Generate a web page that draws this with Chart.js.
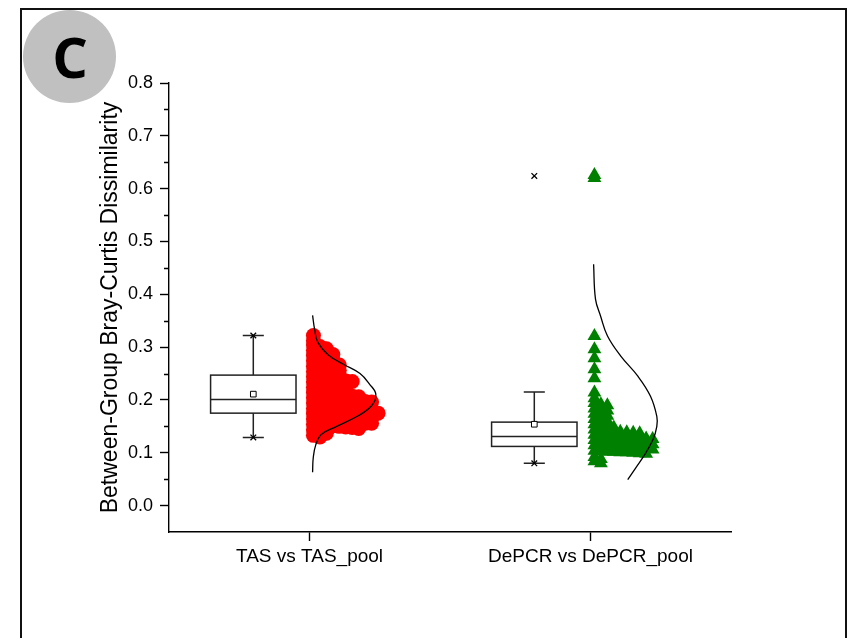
<!DOCTYPE html>
<html>
<head>
<meta charset="utf-8">
<script src="https://cdn.jsdelivr.net/npm/chart.js@4.4.1/dist/chart.umd.min.js"></script>
<style>
  html, body { margin: 0; padding: 0; background: #ffffff; }
  #wrap { width: 848px; height: 638px; position: relative; }
</style>
</head>
<body>
<div id="wrap"><canvas id="chart" width="848" height="638"></canvas></div>
<script>
// ---- data ----
const groups = ['TAS vs TAS_pool', 'DePCR vs DePCR_pool'];
const yTickValues = [0.0, 0.1, 0.2, 0.3, 0.4, 0.5, 0.6, 0.7, 0.8];
const yMinorValues = [0.05, 0.15, 0.25, 0.35, 0.45, 0.55, 0.65, 0.75];

// box statistics per group
const boxQ1 = [0.175, 0.112];
const boxMedian = [0.201, 0.131];
const boxQ3 = [0.247, 0.158];
const whiskerLow = [0.129, 0.080];
const whiskerHigh = [0.322, 0.215];
const groupMean = [0.211, 0.154];
const groupMin = [0.129, 0.080];
const groupMax = [0.322, 0.624];

// individual dissimilarities
const tasPoints = [
  0.322, 0.312,
  0.304, 0.301, 0.297,
  0.294, 0.291, 0.288, 0.286,
  0.284, 0.281, 0.279, 0.276,
  0.274, 0.272, 0.270, 0.268, 0.266,
  0.264, 0.262, 0.260, 0.258, 0.256,
  0.254, 0.252, 0.250, 0.248, 0.246,
  0.244, 0.242, 0.241, 0.239, 0.237, 0.236, 0.235,
  0.234, 0.232, 0.231, 0.229, 0.227, 0.226,
  0.224, 0.221, 0.218, 0.216,
  0.214, 0.213, 0.212, 0.211, 0.210, 0.208, 0.207, 0.206,
  0.204, 0.203, 0.202, 0.201, 0.200, 0.200, 0.199, 0.198, 0.197, 0.196,
  0.194, 0.193, 0.192, 0.191, 0.190, 0.189, 0.188, 0.187, 0.186,
  0.184, 0.183, 0.182, 0.181, 0.180, 0.179, 0.178, 0.177, 0.176, 0.176, 0.175,
  0.174, 0.173, 0.172, 0.171, 0.170, 0.169, 0.168, 0.167, 0.166, 0.166,
  0.164, 0.163, 0.162, 0.161, 0.160, 0.159, 0.158, 0.157, 0.156, 0.156,
  0.154, 0.153, 0.152, 0.151, 0.150, 0.149, 0.148, 0.146,
  0.143, 0.140, 0.137,
  0.133, 0.130
];
const depcrPoints = [
  0.626, 0.620,
  0.321, 0.296, 0.279, 0.258, 0.241, 0.214,
  0.203,
  0.194, 0.192, 0.190,
  0.184, 0.182, 0.180,
  0.174, 0.172, 0.170,
  0.164, 0.162, 0.160,
  0.154, 0.152, 0.150, 0.148,
  0.144, 0.143, 0.142, 0.141, 0.140, 0.139, 0.138, 0.137,
  0.134, 0.133, 0.132, 0.131, 0.130, 0.130, 0.129, 0.128, 0.127, 0.126,
  0.124, 0.123, 0.122, 0.121, 0.120, 0.120, 0.119, 0.118, 0.117, 0.116,
  0.114, 0.113, 0.112, 0.111, 0.110, 0.110, 0.109, 0.108, 0.107, 0.106,
  0.104, 0.103, 0.102, 0.102, 0.101, 0.101, 0.100, 0.099, 0.098,
  0.092, 0.088,
  0.084, 0.080
];

// fitted normal curves: dissimilarity level and relative density
const tasCurveY = [0.360, 0.335, 0.310, 0.285, 0.268, 0.250, 0.230, 0.211, 0.190, 0.170, 0.150, 0.135, 0.115, 0.090, 0.063];
const tasCurveDensity = [0.00, 0.03, 0.08, 0.25, 0.48, 0.75, 0.90, 1.00, 0.94, 0.72, 0.38, 0.14, 0.05, 0.01, 0.00];
const depcrCurveY = [0.457, 0.391, 0.359, 0.321, 0.283, 0.245, 0.207, 0.169, 0.150, 0.125, 0.093, 0.072, 0.049];
const depcrCurveDensity = [0.00, 0.03, 0.11, 0.22, 0.43, 0.70, 0.90, 1.00, 1.00, 0.94, 0.79, 0.67, 0.54];

// ---- layout of the marks around each category (x units) ----
const BOX_OFFSET = -0.2;
const BOX_HALF = 0.152;
const CAP_HALF = 0.0375;
const POINT_BASE = 0.014;
const POINT_STEP = 0.023;
const CURVE_BASE = 0.011;
const CURVE_SCALE = 0.225;

// places points of the same 0.01-wide bin side by side to the right of the category
function binnedPoints(values, pos) {
  const counts = {};
  return values.map(v => {
    const bin = Math.round(v * 100);
    counts[bin] = (counts[bin] === undefined) ? 0 : counts[bin] + 1;
    return { x: pos + POINT_BASE + counts[bin] * POINT_STEP, y: v };
  });
}
function curvePoints(ys, dens, pos) {
  return ys.map((v, k) => ({ x: pos + CURVE_BASE + dens[k] * CURVE_SCALE, y: v }));
}

Chart.defaults.font.family = '"Liberation Sans", Arial, sans-serif';
Chart.defaults.color = '#000000';

// box, median line and whiskers for each category
const boxPlotPlugin = {
  id: 'boxPlot',
  beforeDatasetsDraw(chart) {
    const { ctx, scales: { x, y } } = chart;
    ctx.save();
    ctx.strokeStyle = '#222222';
    ctx.lineWidth = 1.5;
    groups.forEach((g, i) => {
      const c = i + 1 + BOX_OFFSET;
      const xl = x.getPixelForValue(c - BOX_HALF);
      const xr = x.getPixelForValue(c + BOX_HALF);
      const xc = x.getPixelForValue(c);
      const cl = x.getPixelForValue(c - CAP_HALF);
      const cr = x.getPixelForValue(c + CAP_HALF);
      const y1 = y.getPixelForValue(boxQ1[i]);
      const y3 = y.getPixelForValue(boxQ3[i]);
      const ym = y.getPixelForValue(boxMedian[i]);
      const yl = y.getPixelForValue(whiskerLow[i]);
      const yh = y.getPixelForValue(whiskerHigh[i]);
      ctx.strokeRect(xl, y3, xr - xl, y1 - y3);
      ctx.beginPath();
      ctx.moveTo(xl, ym); ctx.lineTo(xr, ym);
      ctx.moveTo(xc, y3); ctx.lineTo(xc, yh);
      ctx.moveTo(xc, y1); ctx.lineTo(xc, yl);
      ctx.moveTo(cl, yh); ctx.lineTo(cr, yh);
      ctx.moveTo(cl, yl); ctx.lineTo(cr, yl);
      ctx.stroke();
    });
    ctx.restore();
  }
};

// minor ticks on the y axis
const minorTickPlugin = {
  id: 'minorTicks',
  afterDraw(chart) {
    const { ctx, scales: { y } } = chart;
    const x0 = y.right;
    ctx.save();
    ctx.strokeStyle = '#000000';
    ctx.lineWidth = 1.4;
    ctx.beginPath();
    yMinorValues.forEach(v => {
      const py = Math.round(y.getPixelForValue(v)) + 0.5;
      ctx.moveTo(x0 - 5, py); ctx.lineTo(x0, py);
    });
    ctx.stroke();
    ctx.restore();
  }
};

// page background, outer frame and panel letter
const panelPlugin = {
  id: 'panel',
  beforeDraw(chart) {
    const { ctx } = chart;
    ctx.save();
    ctx.fillStyle = '#ffffff';
    ctx.fillRect(0, 0, chart.width, chart.height);
    ctx.restore();
  },
  afterDraw(chart) {
    const { ctx } = chart;
    ctx.save();
    ctx.strokeStyle = '#111111';
    ctx.lineWidth = 2;
    ctx.strokeRect(21, 9, 825, 700);
    ctx.fillStyle = '#c0c0c0';
    ctx.beginPath();
    ctx.arc(69.5, 56.5, 46.5, 0, Math.PI * 2);
    ctx.fill();
    ctx.fillStyle = '#000000';
    ctx.font = 'bold 56px "Open Sans", "Liberation Sans", sans-serif';
    ctx.textAlign = 'center';
    ctx.textBaseline = 'alphabetic';
    ctx.fillText('C', 70, 78);
    ctx.restore();
  }
};

const datasets = [
  {
    label: 'TAS curve',
    data: curvePoints(tasCurveY, tasCurveDensity, 1),
    showLine: true, borderColor: '#000000', borderWidth: 1.3,
    pointRadius: 0, tension: 0.4, fill: false, order: 0
  },
  {
    label: 'DePCR curve',
    data: curvePoints(depcrCurveY, depcrCurveDensity, 2),
    showLine: true, borderColor: '#000000', borderWidth: 1.3,
    pointRadius: 0, tension: 0.4, fill: false, order: 0
  },
  {
    label: 'TAS',
    data: binnedPoints(tasPoints, 1),
    pointStyle: 'circle', pointRadius: 7.5, borderWidth: 0,
    backgroundColor: '#ff0000', order: 2
  },
  {
    label: 'DePCR',
    data: binnedPoints(depcrPoints, 2),
    pointStyle: 'triangle', pointRadius: 8, borderWidth: 0,
    backgroundColor: '#008000', order: 2
  },
  {
    label: 'Mean',
    data: groupMean.map((v, i) => ({ x: i + 1 + BOX_OFFSET, y: v })),
    pointStyle: 'rect', pointRadius: 4, borderWidth: 1,
    borderColor: '#000000', backgroundColor: '#ffffff', order: 1
  },
  {
    label: 'Min/Max',
    data: groupMin.map((v, i) => ({ x: i + 1 + BOX_OFFSET, y: v }))
      .concat(groupMax.map((v, i) => ({ x: i + 1 + BOX_OFFSET, y: v }))),
    pointStyle: 'crossRot', pointRadius: 4, borderWidth: 1.3,
    borderColor: '#000000', order: 1
  }
];

new Chart(document.getElementById('chart'), {
  type: 'scatter',
  data: { datasets },
  plugins: [panelPlugin, boxPlotPlugin, minorTickPlugin],
  options: {
    responsive: false,
    animation: false,
    devicePixelRatio: 1,
    layout: { padding: { left: 95, top: 83, right: 117, bottom: 40 } },
    plugins: { legend: { display: false }, tooltip: { enabled: false } },
    scales: {
      x: {
        type: 'linear',
        min: 0.5, max: 2.5,
        afterBuildTicks(scale) { scale.ticks = groups.map((g, i) => ({ value: i + 1 })); },
        afterFit(scale) { scale.height = 66; scale.paddingLeft = 0; scale.paddingRight = 0; },
        ticks: {
          autoSkip: false, maxRotation: 0, padding: 4,
          font: { size: 19 }, color: '#000000',
          callback: (v) => groups[Math.round(v) - 1]
        },
        grid: { drawOnChartArea: false, drawTicks: true, tickLength: 9, tickColor: '#000000', tickWidth: 1.4 },
        border: { display: true, color: '#000000', width: 1.4 }
      },
      y: {
        type: 'linear',
        min: -0.05, max: 0.8,
        afterBuildTicks(scale) { scale.ticks = yTickValues.map(v => ({ value: v })); },
        afterFit(scale) { scale.width = 74; scale.paddingTop = 0; scale.paddingBottom = 0; },
        ticks: {
          padding: 7, font: { size: 18 }, color: '#000000',
          callback: (v) => v.toFixed(1)
        },
        grid: { drawOnChartArea: false, drawTicks: true, tickLength: 9, tickColor: '#000000', tickWidth: 1.4 },
        border: { display: true, color: '#000000', width: 1.4 },
        title: {
          display: true,
          text: 'Between-Group Bray-Curtis Dissimilarity',
          font: { size: 23 }, color: '#000000',
          padding: { top: 2, bottom: 0 }
        }
      }
    }
  }
});
</script>
</body>
</html>
